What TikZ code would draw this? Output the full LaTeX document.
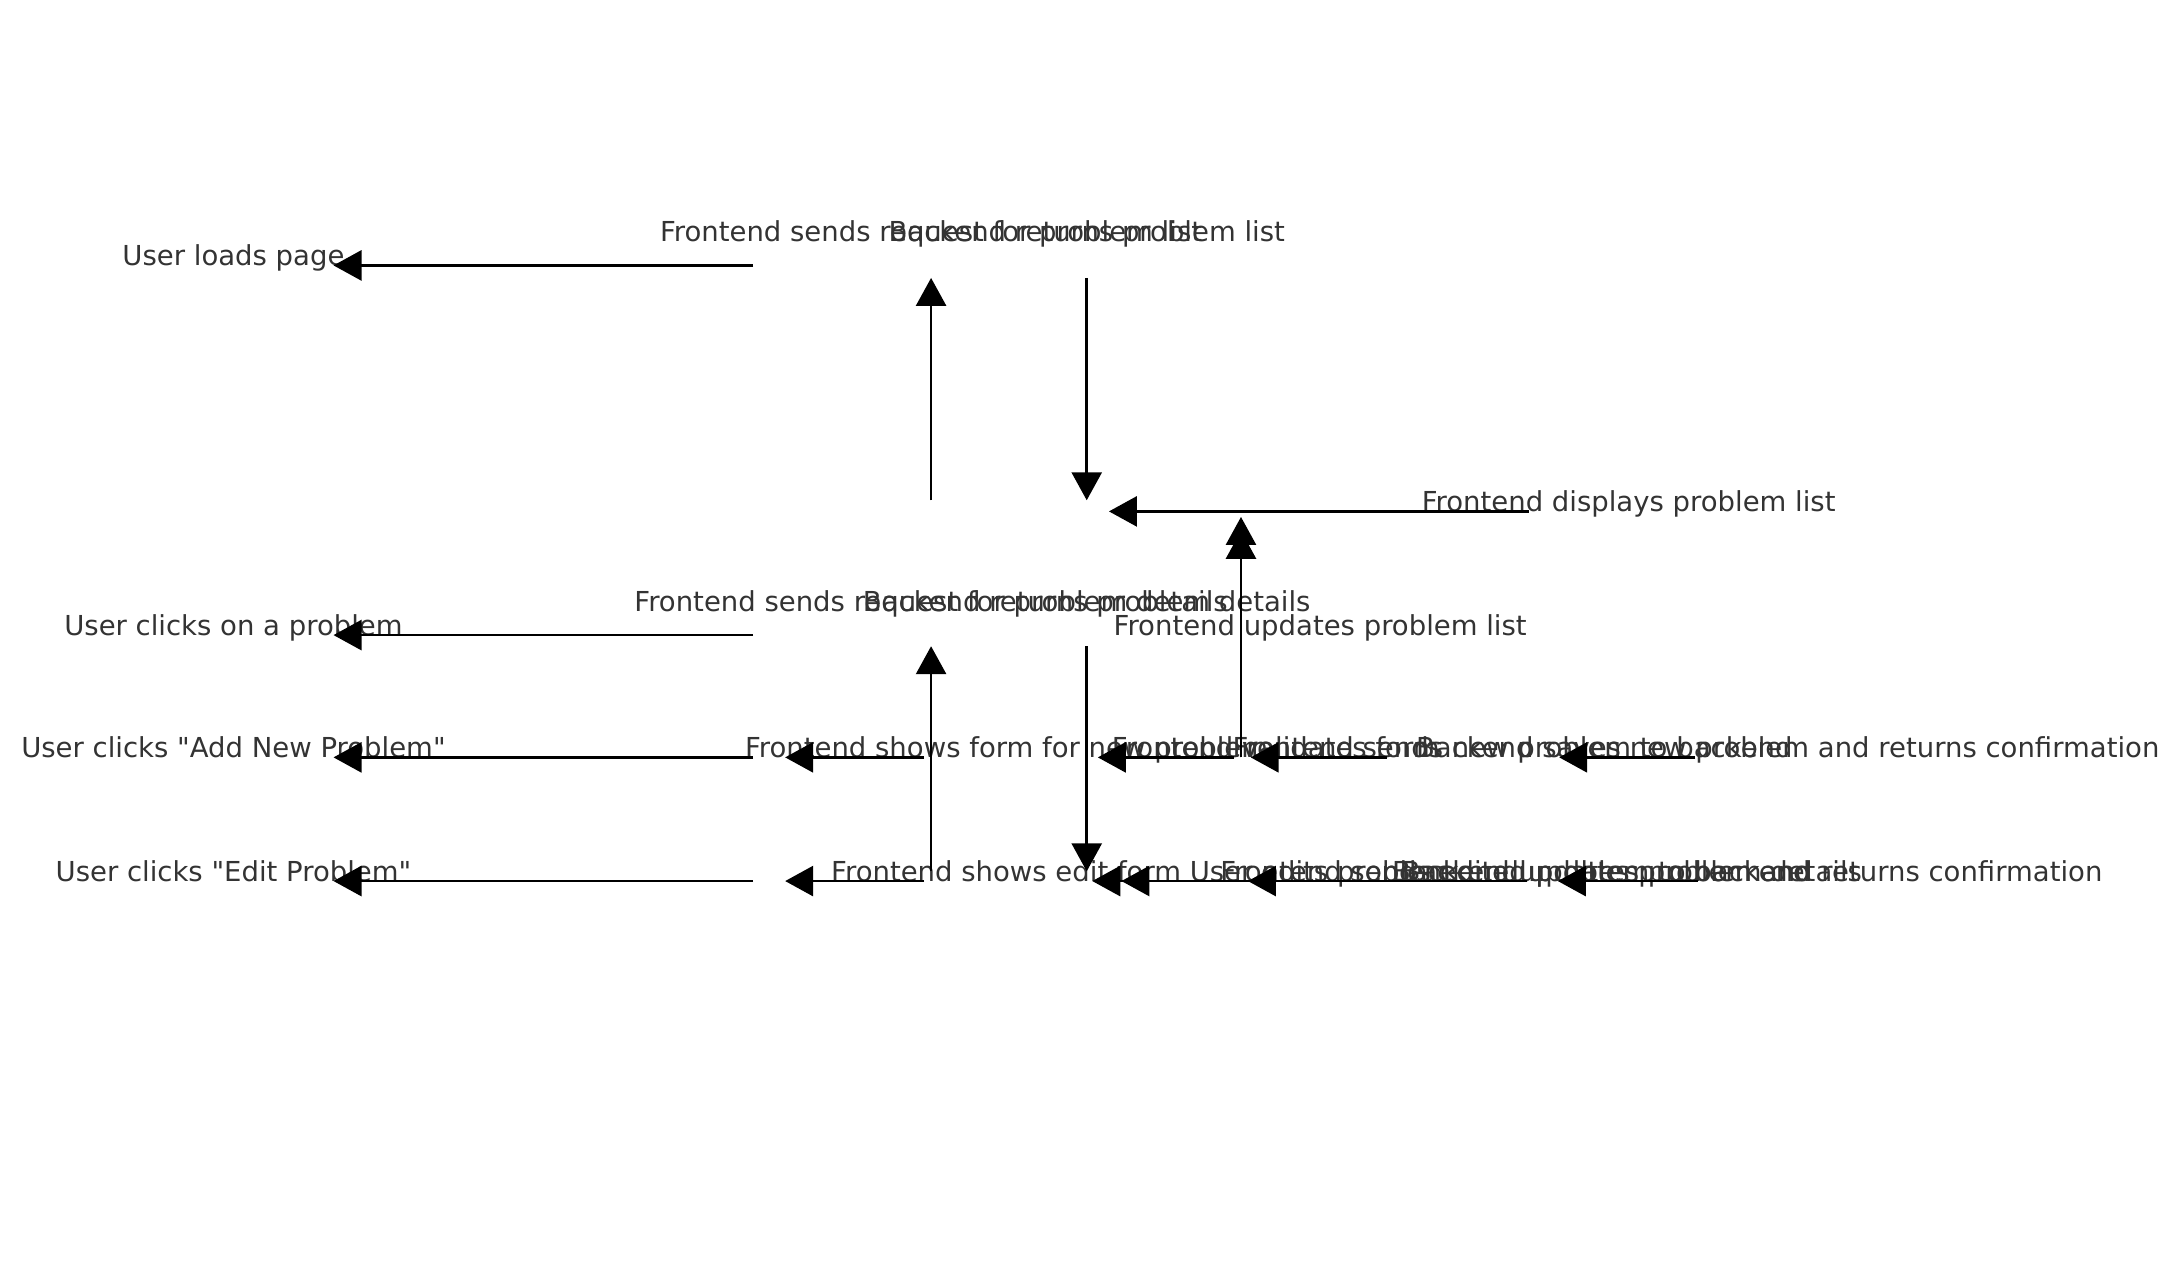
\documentclass[tikz,border=0pt]{standalone}
\usepackage{fontspec}
\setmainfont{DejaVu Sans}[Ligatures=TeXOff]
\usetikzlibrary{arrows.meta}
\definecolor{txt}{RGB}{51,51,51}
\begin{document}
\begin{tikzpicture}[x=1.3897pt,y=-1.3897pt,
  lbl/.style={inner sep=0pt,text=txt,font=\fontsize{27.5}{33}\selectfont},
  conn/.style={line width=2.8pt,draw=black,-{Triangle[length=28pt,width=30pt]}}]
\useasboundingbox (0,0) rectangle (1568,915);
% labels
\node[lbl,anchor=base] (n1) at (168,191) {User loads page};
\node[lbl,anchor=base] (n2) at (670,174) {Frontend sends request for problem list};
\node[lbl,anchor=base] (n3) at (782,174) {Backend returns problem list};
\node[lbl,anchor=base] (n4) at (1172,368) {Frontend displays problem list};
\node[lbl,anchor=base] (n5) at (670,440) {Frontend sends request for problem details};
\node[lbl,anchor=base] (n6) at (782,440) {Backend returns problem details};
\node[lbl,anchor=base] (n7) at (168,457) {User clicks on a problem};
\node[lbl,anchor=base] (n8) at (950,457) {Frontend updates problem list};
\node[lbl,anchor=base] (n9) at (168,545) {User clicks "Add New Problem"};
\node[lbl,anchor=base] (n10) at (168,634) {User clicks "Edit Problem"};
\node[lbl,anchor=base west] (n11) at (536,545) {Frontend shows form for new problem};
\node[lbl,anchor=base west] (n12) at (800,545) {Frontend validates form};
\node[lbl,anchor=base east] (n13) at (1290,545) {Frontend sends new problem to backend};
\node[lbl,anchor=base east] (n14) at (1554,545) {Backend saves new problem and returns confirmation};
\node[lbl,anchor=base west] (n15) at (598,634) {Frontend shows edit form};
\node[lbl,anchor=base west] (n16) at (856,634) {User edits problem};
\node[lbl,anchor=base west] (n17) at (878,634) {Frontend sends edited problem to backend};
\node[lbl,anchor=base east] (n18) at (1340,634) {Backend updates problem details};
\node[lbl,anchor=base east] (n19) at (1513,634) {Backend updates problem and returns confirmation};
% connector end points
\coordinate (a1s) at (542,191); \coordinate (a1e) at (240,191);
\coordinate (a2s) at (670,360); \coordinate (a2e) at (670,200);
\coordinate (a3s) at (782,200); \coordinate (a3e) at (782,360);
\coordinate (a4s) at (1100,368); \coordinate (a4e) at (798,368);
\coordinate (a5s) at (893,545); \coordinate (a5e) at (893,372);
\coordinate (a5f) at (893,382);
\coordinate (a6s) at (542,457); \coordinate (a6e) at (240,457);
\coordinate (a7s) at (670,627); \coordinate (a7e) at (670,465);
\coordinate (a8s) at (782,465); \coordinate (a8e) at (782,627);
\coordinate (a9s) at (542,545); \coordinate (a9e) at (240,545);
\coordinate (a10s) at (665,545); \coordinate (a10e) at (565,545);
\coordinate (a11s) at (888,545); \coordinate (a11e) at (790,545);
\coordinate (a12s) at (998,545); \coordinate (a12e) at (900,545);
\coordinate (a13s) at (1220,545); \coordinate (a13e) at (1122,545);
\coordinate (a14s) at (542,634); \coordinate (a14e) at (240,634);
\coordinate (a15s) at (665,634); \coordinate (a15e) at (565,634);
\coordinate (a16s) at (888,634); \coordinate (a16e) at (786,634);
\coordinate (a17s) at (1099,634); \coordinate (a17e) at (807,634);
\coordinate (a18s) at (998,634); \coordinate (a18e) at (898,634);
\coordinate (a19s) at (1222,634); \coordinate (a19e) at (1121,634);
% connectors
\draw[conn] (a1s) -- (a1e);
\draw[conn] (a2s) -- (a2e);
\draw[conn] (a3s) -- (a3e);
\draw[conn] (a4s) -- (a4e);
\draw[conn] (a5s) -- (a5f);
\draw[conn] (a5s) -- (a5e);
\draw[conn] (a6s) -- (a6e);
\draw[conn] (a7s) -- (a7e);
\draw[conn] (a8s) -- (a8e);
\draw[conn] (a9s) -- (a9e);
\draw[conn] (a10s) -- (a10e);
\draw[conn] (a11s) -- (a11e);
\draw[conn] (a12s) -- (a12e);
\draw[conn] (a13s) -- (a13e);
\draw[conn] (a14s) -- (a14e);
\draw[conn] (a15s) -- (a15e);
\draw[conn] (a16s) -- (a16e);
\draw[conn] (a17s) -- (a17e);
\draw[conn] (a18s) -- (a18e);
\draw[conn] (a19s) -- (a19e);
\end{tikzpicture}
\end{document}
